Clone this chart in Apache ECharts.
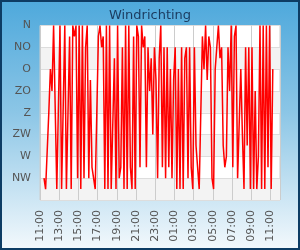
<!DOCTYPE html>
<html><head><meta charset="utf-8">
<script src="https://cdn.jsdelivr.net/npm/echarts@6/dist/echarts.min.js"></script>
<style>
html,body{margin:0;padding:0;}
#wrap{width:300px;height:250px;box-sizing:border-box;border:2px solid #0d3c64;
background:linear-gradient(to bottom,#4fa9dc 0%,#8cc6e6 45%,#f2f8fc 100%);}
#chart{width:296px;height:246px;}
</style></head>
<body><div id="wrap"><div id="chart"></div></div>
<script>
// Wind direction labels (degrees 0,45,...,315)
const directionLabels = ['N','NO','O','ZO','Z','ZW','W','NW'];
// Time axis: hours counted from 11:00 on day 1
const axisStartHour = 11;
const firstSampleMinutes = 25;   // first reading at 11:25
const stepMinutes = 10;          // one reading every 10 minutes
// Wind direction in degrees
const segA = [315,337.5,337.5,180,90,135,0,0,337.5,337.5,0,337.5,337.5,0,337.5,337.5,22.5,337.5,0,22.5,0,315,0,337.5,0,315,45,0,315,112.5,292.5,292.5,337.5,337.5,22.5,0,45,22.5,337.5,0,337.5,0,337.5,337.5,67.5,337.5,0,315];
const segB = [292.5,45,337.5,0,337.5,0,292.5,337.5,22.5,337.5,0,22.5,292.5,0,45,22.5,292.5,45,135,67.5,225,45,112.5,315,67.5];
const segC = [0,292.5,45,315,45,292.5,90,315,112.5,45,337.5,90,337.5,45,337.5,67.5,45,315,45,292.5,337.5,45,247.5,292.5,337.5];
const segD = [337.5,22.5,90,0,112.5,22.5,45,315,337.5,90,45,0,67.5,45,247.5,292.5,270,45,135,0,292.5,22.5,0,315,315];
const segE = [90,225,337.5,45,247.5,45,337.5,45,337.5,135,337.5,270,0,337.5,0,337.5,0,292.5,0,337.5,90];
const windDir = [].concat(segA,segB,segC,segD,segE);

const seriesData = windDir.map((v,i)=>[(firstSampleMinutes + i*stepMinutes)/60, v]);
const pad = n => (n<10?'0':'')+n;
const FONT = 'DejaVu Sans';

const chart = echarts.init(document.getElementById('chart'));
chart.setOption({
  animation:false,
  title:{text:'Windrichting',left:'center',top:2,
    textStyle:{fontFamily:FONT,fontSize:13,fontWeight:'normal',color:'#1b3b5f'}},
  grid:{left:38,right:18,top:23.5,bottom:48,show:true,backgroundColor:'#ffffff',borderColor:'#cccccc',borderWidth:1},
  xAxis:{type:'value',min:0,max:25,interval:2,
    axisLine:{show:false},axisTick:{show:false},
    splitLine:{show:true,lineStyle:{color:'#cccccc',width:1}},
    axisLabel:{rotate:90,margin:10,fontFamily:FONT,fontSize:11,color:'#555555',showMaxLabel:false,
      formatter:v=> (v%2===0 && v<25) ? pad((axisStartHour+v)%24)+':00' : ''}},
  yAxis:{type:'value',inverse:true,min:0,max:360,interval:45,
    axisLine:{show:false},axisTick:{show:false},
    splitLine:{show:true,lineStyle:{color:'#dddddd',width:1}},
    splitArea:{show:true,areaStyle:{color:['rgba(255,255,255,0)','#f3f3f3']}},
    axisLabel:{margin:9,fontFamily:FONT,fontSize:11,color:'#555555',showMaxLabel:false,
      formatter:v=> directionLabels[v/45] || ''}},
  series:[{type:'line',data:seriesData,showSymbol:false,symbol:'none',
    lineStyle:{color:'#ff0000',width:1.5}}]
});
</script></body></html>
